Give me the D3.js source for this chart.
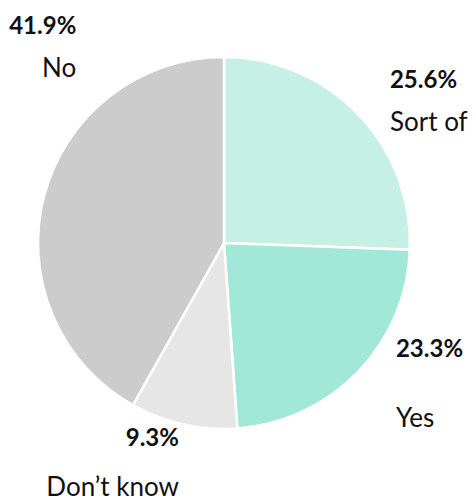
<!DOCTYPE html>
<html>
<head>
<meta charset="utf-8">
<script src="https://cdn.jsdelivr.net/npm/d3@7"></script>
<style>
  html, body { margin: 0; padding: 0; background: #ffffff; }
  svg { display: block; }
  text { font-family: Lato, "Open Sans", sans-serif; fill: #111111; }
</style>
</head>
<body>
<svg id="chart" width="474" height="503"></svg>
<script>
// Survey answers, in clockwise order from 12 o'clock
const categories = ["Sort of", "Yes", "Don\u2019t know", "No"];
const shares = [25.6, 23.3, 9.3, 41.9];
const sliceColors = ["#c6f0e6", "#a2e8d9", "#e6e6e6", "#cccccc"];

// Label placement: nudges from the slice's outer anchor point, and the gap
// between the percentage line and the category line
const labelLayout = [
  { dx: 4, dy: 1, gap: 43 },
  { dx: 10, dy: -42, gap: 70 },
  { dx: 4, dy: -17, gap: 50 },
  { dx: 70, dy: -152, gap: 43 }
];

const width = 474, height = 503;
const cx = 224, cy = 243, radius = 186, labelRadius = 225;

const svg = d3.select("#chart");
const g = svg.append("g").attr("transform", `translate(${cx},${cy})`);

const data = categories.map((c, i) => ({ name: c, value: shares[i], color: sliceColors[i], layout: labelLayout[i] }));

const pie = d3.pie().value(d => d.value).sort(null);
const arc = d3.arc().innerRadius(0).outerRadius(radius);
const arcs = pie(data);

g.selectAll("path.slice")
  .data(arcs)
  .join("path")
  .attr("class", "slice")
  .attr("d", arc)
  .attr("fill", d => d.data.color)
  .attr("stroke", "#ffffff")
  .attr("stroke-width", 2.5)
  .attr("stroke-linejoin", "round");

const fmt = d3.format(".1f");

const labels = g.selectAll("g.label")
  .data(arcs)
  .join("g")
  .attr("class", "label")
  .attr("transform", d => {
    const a = (d.startAngle + d.endAngle) / 2;
    const x = labelRadius * Math.sin(a) + d.data.layout.dx;
    const y = -labelRadius * Math.cos(a) + d.data.layout.dy;
    return `translate(${x},${y})`;
  })
  .attr("text-anchor", d => ((d.startAngle + d.endAngle) / 2 > Math.PI ? "end" : "start"));

labels.append("text")
  .attr("font-size", 24)
  .attr("font-weight", 700)
  .text(d => fmt(d.data.value) + "%");

labels.append("text")
  .attr("y", d => d.data.layout.gap)
  .attr("font-size", 26)
  .attr("font-weight", 400)
  .text(d => d.data.name);
</script>
</body>
</html>
